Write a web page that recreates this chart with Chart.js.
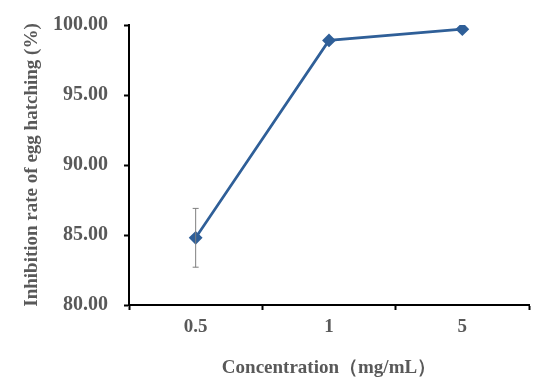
<!DOCTYPE html>
<html>
<head>
<meta charset="utf-8">
<script src="https://cdn.jsdelivr.net/npm/chart.js@4/dist/chart.umd.min.js"></script>
<style>
  html, body { margin: 0; padding: 0; background: #fff; }
  #wrap { width: 550px; height: 390px; }
</style>
</head>
<body>
<div id="wrap"><canvas id="c" width="550" height="390"></canvas></div>
<script>
const categories = ['0.5', '1', '5'];
const inhibition = [84.8, 98.9, 99.7];
const errors = [2.1, 0, 0];
const yTicks = [80, 85, 90, 95, 100];

const lineColor = '#2f5f98';
const textColor = '#595959';
const font = { family: 'Liberation Serif', weight: 'bold', size: 19 };
const yFont = { family: 'Liberation Serif', weight: 'bold', size: 20 };

// simple error bars drawn through the scales
const errorBars = {
  id: 'errorBars',
  afterDatasetsDraw(chart) {
    const ctx = chart.ctx;
    const meta = chart.getDatasetMeta(0);
    const y = chart.scales.y;
    ctx.save();
    ctx.strokeStyle = '#7f7f7f';
    ctx.lineWidth = 1;
    meta.data.forEach((pt, i) => {
      const e = errors[i];
      if (!e) return;
      const v = inhibition[i];
      const top = y.getPixelForValue(v + e);
      const bot = y.getPixelForValue(v - e);
      ctx.beginPath();
      ctx.moveTo(pt.x, top); ctx.lineTo(pt.x, bot);
      ctx.moveTo(pt.x - 3, top); ctx.lineTo(pt.x + 3, top);
      ctx.moveTo(pt.x - 3, bot); ctx.lineTo(pt.x + 3, bot);
      ctx.stroke();
    });
    ctx.restore();
  }
};

new Chart(document.getElementById('c'), {
  type: 'line',
  data: {
    labels: categories,
    datasets: [{
      data: inhibition,
      borderColor: lineColor,
      backgroundColor: lineColor,
      borderWidth: 2.7,
      pointStyle: 'rectRot',
      pointRadius: 5,
      pointHoverRadius: 5,
      tension: 0
    }]
  },
  options: {
    responsive: false,
    animation: false,
    layout: { padding: { top: 25, right: 21, left: 17, bottom: 0 } },
    plugins: { legend: { display: false }, tooltip: { enabled: false } },
    scales: {
      x: {
        offset: true,
        grid: { offset: true, drawOnChartArea: false, color: '#000', tickLength: 5, tickWidth: 2 },
        border: { color: '#000', width: 2 },
        ticks: { color: textColor, font: font, padding: 6 },
        title: { display: true, text: 'Concentration（mg/mL）', color: textColor, font: font, padding: { top: 4, bottom: 11 } },
        afterFit(s) { s.height = 85; }
      },
      y: {
        min: 80, max: 100,
        afterBuildTicks(s) { s.ticks = yTicks.map(v => ({ value: v })); },
        grid: { drawOnChartArea: false, color: '#000', tickLength: 5, tickWidth: 2 },
        border: { color: '#000', width: 2 },
        ticks: { color: textColor, font: yFont, padding: 16, callback: v => Number(v).toFixed(2) },
        title: { display: true, text: 'Inhibition rate of egg hatching (%)', color: textColor, font: font },
        afterFit(s) { s.width = 112; s.paddingTop = 0; s.paddingBottom = 0; }
      }
    }
  },
  plugins: [errorBars]
});
</script>
</body>
</html>
